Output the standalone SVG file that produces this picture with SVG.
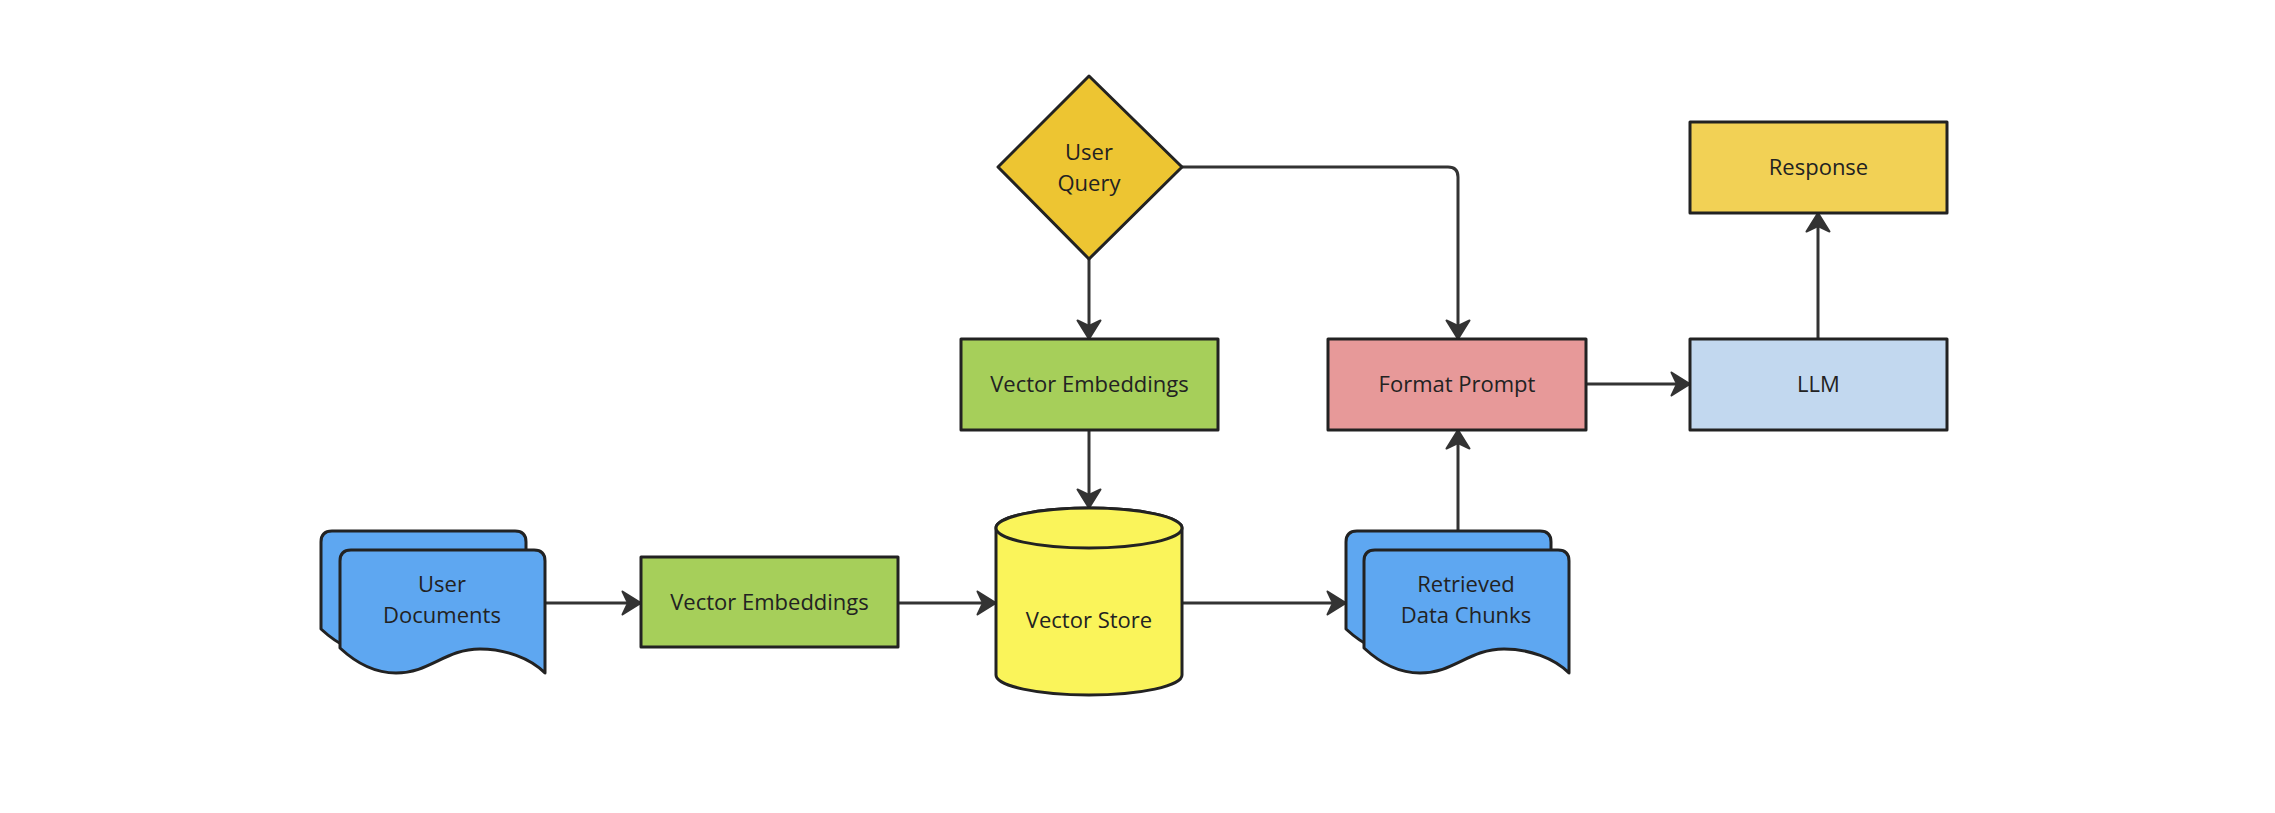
<svg xmlns="http://www.w3.org/2000/svg" width="2275" height="813" viewBox="0 0 2275 813">
<style>
.node{stroke:#222;stroke-width:3;stroke-linejoin:round}
.doc{fill:#5ea7f1}
.green{fill:#a6cf5a}
.lbl{font-family:"Open Sans","Noto Sans","DejaVu Sans",sans-serif;font-size:22px;fill:#222;text-anchor:middle}
.conn{fill:none;stroke:#333;stroke-width:3;marker-end:url(#arr)}
</style>
<defs>
<marker id="arr" markerUnits="userSpaceOnUse" viewBox="0 0 22 26" refX="20" refY="13" markerWidth="22" markerHeight="26" orient="auto">
<path d="M1.5,1.5 L20,13 L1.5,24.5 L7,13 Z" fill="#333" stroke="#333" stroke-width="2" stroke-linejoin="round"/>
</marker>
<path id="docshape" d="M0,98 L0,11 Q0,0 11,0 L194,0 Q205,0 205,11 L205,123 C190,108 165,99 140,99 C105,99 90,123 56,123 C35,123 15,112 0,98 Z"/>
</defs>
<rect width="2275" height="813" fill="#fff"/>
<g id="connectors">
<path class="conn" d="M545,603 H641"/>
<path class="conn" d="M898,603 H996"/>
<path class="conn" d="M1182,603 H1346"/>
<path class="conn" d="M1089,259 V339"/>
<path class="conn" d="M1089,430 V508"/>
<path class="conn" d="M1182,167 H1448 Q1458,167 1458,177 V339"/>
<path class="conn" d="M1458,531 V430"/>
<path class="conn" d="M1586,384 H1690"/>
<path class="conn" d="M1818,339 V213"/>
</g>
<g id="user-documents">
<use href="#docshape" class="node doc" transform="translate(321,531)"/>
<use href="#docshape" class="node doc" transform="translate(340,550)"/>
<text class="lbl" x="442" y="592">User</text>
<text class="lbl" x="442" y="623">Documents</text>
</g>
<g id="vector-embeddings-1">
<rect class="node green" x="641" y="557" width="257" height="90"/>
<text class="lbl" x="769.5" y="610">Vector Embeddings</text>
</g>
<g id="user-query">
<polygon class="node" fill="#edc532" points="998,167 1089,76 1182,167 1089,259"/>
<text class="lbl" x="1089" y="160">User</text>
<text class="lbl" x="1089" y="191">Query</text>
</g>
<g id="vector-embeddings-2">
<rect class="node green" x="961" y="339" width="257" height="91"/>
<text class="lbl" x="1089.5" y="392">Vector Embeddings</text>
</g>
<g id="vector-store">
<path class="node" fill="#faf45a" d="M996,528 L996,675 A93,20 0 0 0 1182,675 L1182,528 A93,20 0 0 0 996,528 Z"/>
<ellipse class="node" fill="#faf45a" cx="1089" cy="528" rx="93" ry="20"/>
<text class="lbl" x="1089" y="628">Vector Store</text>
</g>
<g id="retrieved-data-chunks">
<use href="#docshape" class="node doc" transform="translate(1346,531)"/>
<use href="#docshape" class="node doc" transform="translate(1364,550)"/>
<text class="lbl" x="1466" y="592">Retrieved</text>
<text class="lbl" x="1466" y="623">Data Chunks</text>
</g>
<g id="format-prompt">
<rect class="node" fill="#e79999" x="1328" y="339" width="258" height="91"/>
<text class="lbl" x="1457" y="392">Format Prompt</text>
</g>
<g id="llm">
<rect class="node" fill="#c2d8ef" x="1690" y="339" width="257" height="91"/>
<text class="lbl" x="1818.5" y="392">LLM</text>
</g>
<g id="response">
<rect class="node" fill="#f2d155" x="1690" y="122" width="257" height="91"/>
<text class="lbl" x="1818.5" y="175">Response</text>
</g>
</svg>
